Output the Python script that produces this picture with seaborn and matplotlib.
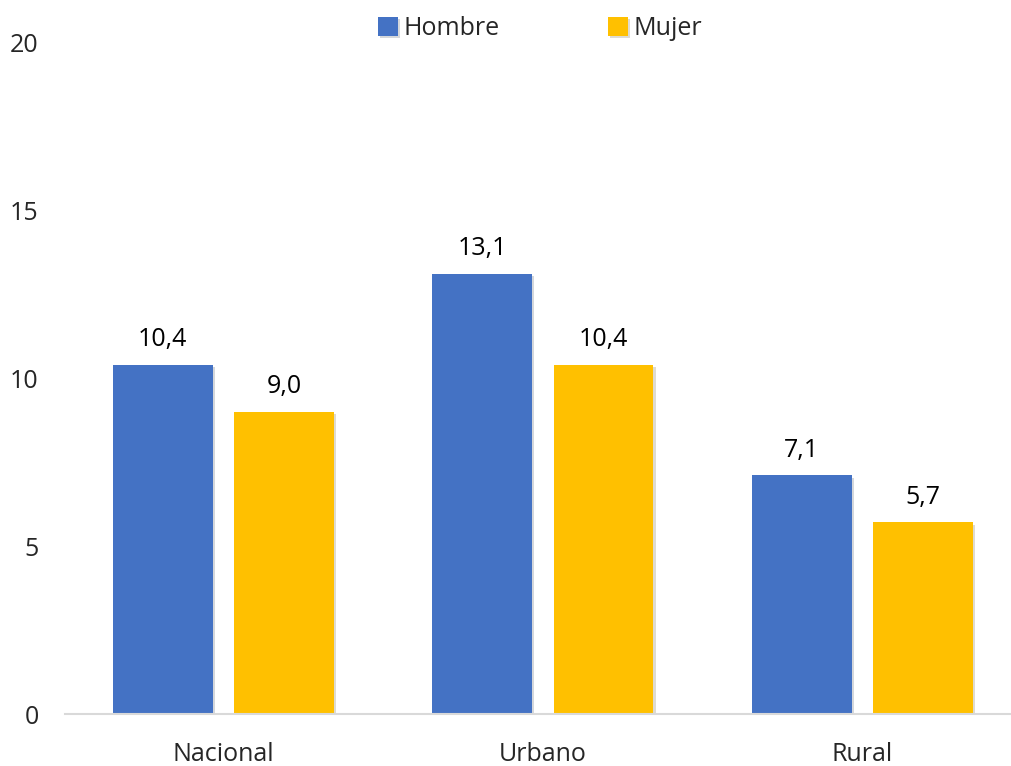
import matplotlib
matplotlib.use("Agg")
import matplotlib.pyplot as plt
import matplotlib.patheffects as pe
import seaborn as sns
import pandas as pd

# %% data
categories = ["Nacional", "Urbano", "Rural"]
hombre = [10.4, 13.1, 7.1]
mujer = [9.0, 10.4, 5.7]
series = ["Hombre", "Mujer"]
colors = ["#4472C4", "#FFC000"]

df = pd.DataFrame({
    "zona": categories * 2,
    "sexo": ["Hombre"] * 3 + ["Mujer"] * 3,
    "valor": hombre + mujer,
})

# %% plot
sns.set_style("white")
plt.rcParams["font.family"] = ["Open Sans", "DejaVu Sans"]
fs = 18

fig = plt.figure(figsize=(10.11, 7.66), dpi=100)
ax = fig.add_axes([65 / 1011, 52 / 766, 1 - 65 / 1011, (714 - 42) / 766])

sns.barplot(data=df, x="zona", y="valor", hue="sexo", hue_order=series,
            palette=colors, width=0.76, gap=0.18, ax=ax, errorbar=None,
            saturation=1, edgecolor="none")

for p in ax.patches:
    p.set_path_effects([pe.SimplePatchShadow(offset=(1.5, -1.5), alpha=0.18), pe.Normal()])

for cont in ax.containers:
    ax.bar_label(cont, labels=[f"{v:.1f}".replace(".", ",") for v in cont.datavalues],
                 padding=9, fontsize=fs, color="#000000")

ax.set_ylim(0, 20)
ax.set_xlim(-0.496, 2.465)
ax.set_yticks([0, 5, 10, 15, 20])
ax.tick_params(axis="y", length=0, pad=19, labelsize=fs)
ax.tick_params(axis="x", length=0, pad=20, labelsize=fs)
ax.set_xlabel("")
ax.set_ylabel("")
for s in ["top", "right", "left"]:
    ax.spines[s].set_visible(False)
ax.spines["bottom"].set_color("#d9d9d9")
ax.spines["bottom"].set_linewidth(1.5)

ax.legend(loc="upper center", bbox_to_anchor=(540 / 1011, 1.0), bbox_transform=fig.transFigure,
          ncol=2, frameon=False, fontsize=fs, handlelength=0.8, handleheight=0.8,
          handletextpad=0.25, columnspacing=4.3, borderaxespad=0.25)

fig.savefig("out.png", dpi=100)
